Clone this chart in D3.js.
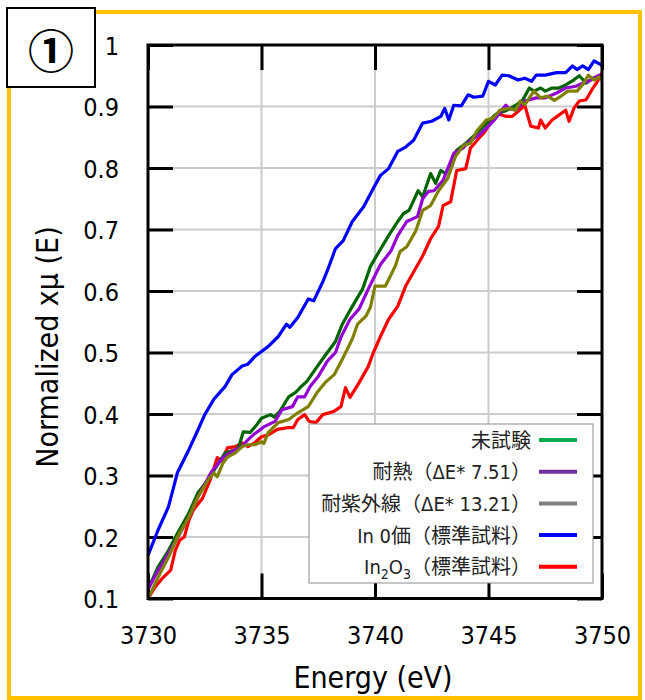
<!DOCTYPE html>
<html>
<head>
<meta charset="utf-8">
<script src="https://cdn.jsdelivr.net/npm/d3@7"></script>
<style>
	body { margin: 0; background: #fff; }
	svg text { font-family: "DejaVu Sans Condensed", "DejaVu Sans", "Noto Sans CJK JP", sans-serif; font-stretch: condensed; }
</style>
</head>
<body>
<svg id="chart" width="645" height="700"></svg>
<script>
/*
XANES spectra (In K-edge) of three samples and two references.
Each series is a list of [energy eV, normalized xmu] pairs.
*/
var mishiken = [ //未試験
	[3730.0,0.115],[3730.44,0.151],[3730.9,0.178],[3731.3,0.206],[3731.8,0.239],[3732.2,0.272],
	[3732.65,0.293],[3733.0,0.314],[3733.4,0.337],[3733.85,0.342],[3734.0,0.347],[3734.2,0.371],
	[3734.5,0.370],[3734.8,0.383],[3735.0,0.393],[3735.4,0.399],[3735.55,0.395],[3735.8,0.404],
	[3736.2,0.428],[3736.5,0.435],[3736.7,0.443],[3737.0,0.453],[3737.45,0.477],[3737.9,0.500],
	[3738.26,0.518],[3738.56,0.546],[3739.0,0.575],[3739.45,0.603],[3739.8,0.640],[3740.24,0.668],
	[3740.6,0.690],[3741.0,0.713],[3741.26,0.726],[3741.5,0.731],[3741.9,0.763],[3742.1,0.753],
	[3742.45,0.791],[3742.67,0.775],[3742.9,0.796],[3743.1,0.791],[3743.4,0.811],[3743.6,0.829],
	[3744.0,0.840],[3744.35,0.852],[3744.8,0.868],[3745.3,0.887],[3745.76,0.893],[3746.2,0.902],
	[3746.5,0.910],[3746.8,0.930],[3747.0,0.925],[3747.3,0.930],[3747.5,0.925],[3747.8,0.930],
	[3748.1,0.930],[3748.4,0.935],[3748.75,0.943],[3749.0,0.950],[3749.3,0.938],[3749.6,0.946],
	[3749.9,0.950],[3750.0,0.946]
];

var tainetsu = [ //耐熱
	[3730.0,0.115],[3730.44,0.145],[3730.9,0.173],[3731.3,0.199],[3731.8,0.232],[3732.2,0.265],
	[3732.8,0.306],[3733.3,0.329],[3733.7,0.339],[3734.15,0.347],[3734.4,0.358],[3734.7,0.368],
	[3735.1,0.379],[3735.6,0.388],[3735.9,0.407],[3736.36,0.412],[3736.6,0.428],[3736.9,0.428],
	[3737.15,0.445],[3737.5,0.461],[3737.9,0.486],[3738.26,0.500],[3738.5,0.525],[3738.9,0.554],
	[3739.3,0.571],[3739.7,0.603],[3740.24,0.643],[3740.7,0.665],[3741.0,0.690],[3741.4,0.713],
	[3741.87,0.721],[3742.1,0.750],[3742.36,0.762],[3742.6,0.763],[3743.0,0.780],[3743.47,0.824],
	[3743.86,0.832],[3744.2,0.845],[3744.57,0.853],[3745.0,0.868],[3745.3,0.880],[3745.76,0.902],
	[3745.9,0.897],[3746.2,0.894],[3746.6,0.909],[3747.1,0.914],[3747.5,0.914],[3748.0,0.922],
	[3748.4,0.930],[3748.85,0.933],[3749.15,0.938],[3749.4,0.941],[3749.87,0.951],[3750.0,0.945]
];

var taishigai = [ //耐紫外線
	[3730.0,0.100],[3730.44,0.134],[3730.9,0.167],[3731.3,0.200],[3731.8,0.232],[3732.2,0.265],
	[3732.65,0.293],[3732.9,0.304],[3733.05,0.298],[3733.3,0.320],[3733.5,0.330],[3733.85,0.337],
	[3734.15,0.347],[3734.4,0.350],[3734.7,0.350],[3735.0,0.355],[3735.1,0.352],[3735.3,0.370],
	[3735.74,0.386],[3736.2,0.391],[3736.6,0.402],[3737.06,0.412],[3737.45,0.435],[3737.8,0.451],
	[3738.2,0.464],[3738.56,0.489],[3739.0,0.522],[3739.23,0.546],[3739.6,0.559],[3739.8,0.574],
	[3740.0,0.608],[3740.46,0.608],[3740.9,0.641],[3741.1,0.664],[3741.4,0.672],[3741.8,0.698],
	[3742.1,0.731],[3742.45,0.739],[3742.8,0.763],[3743.2,0.783],[3743.55,0.819],[3743.9,0.837],
	[3744.2,0.840],[3744.5,0.861],[3744.9,0.878],[3745.2,0.881],[3745.5,0.894],[3745.9,0.897],
	[3746.2,0.894],[3746.4,0.909],[3746.6,0.903],[3747.0,0.925],[3747.3,0.914],[3747.6,0.917],
	[3747.9,0.910],[3748.2,0.917],[3748.5,0.925],[3748.9,0.925],[3749.2,0.938],[3749.4,0.951],
	[3749.65,0.943],[3749.87,0.948],[3750.0,0.943]
];

var in0 = [ //In 0価
	[3730.0,0.170],[3730.44,0.211],[3730.9,0.249],[3731.3,0.305],[3731.8,0.342],
	[3732.2,0.374],[3732.5,0.399],[3732.9,0.424],[3733.4,0.445],[3733.7,0.464],[3734.15,0.478],
	[3734.4,0.481],[3734.72,0.494],[3735.3,0.510],[3735.74,0.526],[3736.1,0.546],[3736.25,0.541],
	[3736.6,0.557],[3737.06,0.587],[3737.3,0.584],[3737.7,0.615],[3737.9,0.633],[3738.26,0.669],
	[3738.6,0.682],[3739.0,0.713],[3739.5,0.737],[3739.9,0.765],[3740.24,0.788],[3740.6,0.799],
	[3741.0,0.827],[3741.35,0.834],[3741.7,0.845],[3742.1,0.873],[3742.5,0.876],[3742.9,0.884],
	[3743.07,0.897],[3743.25,0.878],[3743.47,0.902],[3743.8,0.901],[3744.1,0.919],[3744.35,0.915],
	[3744.75,0.917],[3745.0,0.941],[3745.3,0.935],[3745.6,0.951],[3745.9,0.950],[3746.3,0.943],
	[3746.6,0.946],[3746.9,0.941],[3747.1,0.951],[3747.5,0.951],[3748.0,0.955],[3748.4,0.955],
	[3748.7,0.966],[3748.9,0.960],[3749.15,0.966],[3749.4,0.960],[3749.65,0.974],[3749.95,0.968],
	[3750.0,0.966]
];

var in2o3 = [ //In2O3
	[3730.0,0.100],[3730.3,0.118],[3730.66,0.134],[3731.0,0.146],[3731.2,0.178],[3731.4,0.195],
	[3731.6,0.200],[3731.8,0.227],[3732.0,0.244],[3732.4,0.263],[3732.74,0.293],[3733.05,0.329],
	[3733.25,0.324],[3733.5,0.345],[3733.85,0.347],[3734.15,0.353],[3734.4,0.347],[3734.7,0.353],
	[3735.0,0.363],[3735.3,0.366],[3735.7,0.375],[3736.2,0.378],[3736.4,0.378],[3736.6,0.391],
	[3736.9,0.399],[3737.1,0.388],[3737.4,0.386],[3737.7,0.399],[3738.17,0.404],[3738.5,0.412],
	[3738.7,0.443],[3738.9,0.427],[3739.3,0.451],[3739.7,0.477],[3739.93,0.500],[3740.24,0.526],
	[3740.6,0.554],[3741.0,0.575],[3741.35,0.608],[3741.7,0.631],[3742.1,0.657],[3742.45,0.685],
	[3742.8,0.705],[3743.0,0.739],[3743.33,0.745],[3743.6,0.796],[3744.0,0.799],[3744.2,0.832],
	[3744.57,0.848],[3744.8,0.857],[3745.0,0.868],[3745.2,0.881],[3745.45,0.888],[3745.75,0.884],
	[3746.05,0.884],[3746.3,0.892],[3746.6,0.902],[3746.86,0.868],[3747.2,0.865],[3747.3,0.878],
	[3747.5,0.865],[3747.8,0.878],[3748.1,0.886],[3748.4,0.894],[3748.55,0.876],[3748.76,0.897],
	[3749.0,0.909],[3749.3,0.911],[3749.6,0.930],[3749.8,0.941],[3750.0,0.955]
];

//tick values
var xTicks = [3730, 3735, 3740, 3745, 3750];
var yTicks = [0.1, 0.2, 0.3, 0.4, 0.5, 0.6, 0.7, 0.8, 0.9, 1];

//curve colours differ from the pasted legend swatches (as in the picture)
var curveSeries = [in2o3, in0, mishiken, tainetsu, taishigai];
var curveColors = ["#ff0000", "#0000ff", "#006400", "#9400d3", "#808000"];

var legendLabels = ["未試験", "耐熱（ΔE* 7.51）", "耐紫外線（ΔE* 13.21）", "In 0価（標準試料）", "In2O3（標準試料）"];
var legendColors = ["#00b050", "#7030a0", "#808080", "#0000ff", "#ff0000"];

var svg = d3.select("#chart");

//gold frame of the slide panel
svg.append("rect")
.attr("x", 9)
.attr("y", 12)
.attr("width", 631)
.attr("height", 686)
.attr("fill", "none")
.attr("stroke", "#ffc000")
.attr("stroke-width", 4);

//plot box edges (window.top is reserved, so no bare "top")
var plotL = 148, plotR = 602, plotT = 45, plotB = 598.5;

var x = d3.scaleLinear().domain([3730, 3750]).range([plotL, plotR]);
var y = d3.scaleLinear().domain([0.1, 1]).range([plotB, plotT]);

//grid
svg.append("g")
.selectAll("line")
.data(xTicks.slice(1, -1))
.enter()
.append("line")
.attr("x1", function(d){return x(d);})
.attr("x2", function(d){return x(d);})
.attr("y1", plotT)
.attr("y2", plotB)
.attr("stroke", "#cccccc")
.attr("stroke-width", 2);

svg.append("g")
.selectAll("line")
.data(yTicks.slice(1, -1))
.enter()
.append("line")
.attr("x1", plotL)
.attr("x2", plotR)
.attr("y1", function(d){return y(d);})
.attr("y2", function(d){return y(d);})
.attr("stroke", "#cccccc")
.attr("stroke-width", 2);

//inward ticks on all four sides, gnuplot style
function tickAxis(axis, tx, ty){
	var g = svg.append("g")
	.attr("transform", "translate(" + tx + "," + ty + ")")
	.call(axis.tickSize(-25).tickFormat(""));
	g.select(".domain").remove();
	g.selectAll("line").attr("stroke", "#000").attr("stroke-width", 3);
	return g;
}
tickAxis(d3.axisBottom(x).tickValues(xTicks), 0, plotB);
tickAxis(d3.axisTop(x).tickValues(xTicks), 0, plotT);
tickAxis(d3.axisLeft(y).tickValues(yTicks), plotL, 0);
tickAxis(d3.axisRight(y).tickValues(yTicks), plotR, 0);

//tick labels through the same scales
var xLab = svg.append("g")
.attr("transform", "translate(0," + plotB + ")")
.call(d3.axisBottom(x).tickValues(xTicks).tickSize(0).tickPadding(45).tickFormat(d3.format("d")));
xLab.select(".domain").remove();
xLab.selectAll("text")
.attr("dy", 0)
.style("font-size", "25px")
.attr("fill", "#000");

var yLab = svg.append("g")
.attr("transform", "translate(119,0)")
.call(d3.axisLeft(y).tickValues(yTicks).tickSize(0).tickPadding(0).tickFormat(function(d){return String(+d.toFixed(1));}));
yLab.select(".domain").remove();
yLab.selectAll("text")
.attr("dy", "0.36em")
.style("font-size", "25px")
.attr("fill", "#000");

//curves
svg.append("clipPath")
.attr("id", "plotclip")
.append("rect")
.attr("x", plotL)
.attr("y", plotT)
.attr("width", plotR - plotL)
.attr("height", plotB - plotT);

var line = d3.line()
.x(function(d){return x(d[0]);})
.y(function(d){return y(d[1]);});

svg.append("g")
.attr("clip-path", "url(#plotclip)")
.selectAll("path")
.data(curveSeries)
.enter()
.append("path")
.attr("d", line)
.attr("fill", "none")
.attr("stroke", function(d, i){return curveColors[i];})
.attr("stroke-width", 3.2)
.attr("stroke-linejoin", "round");

//frame
svg.append("rect")
.attr("x", plotL)
.attr("y", plotT)
.attr("width", plotR - plotL)
.attr("height", plotB - plotT)
.attr("fill", "none")
.attr("stroke", "#000")
.attr("stroke-width", 3);

//axis titles
svg.append("text")
.attr("x", 373)
.attr("y", 688)
.attr("text-anchor", "middle")
.style("font-size", "30px")
.text("Energy (eV)");

svg.append("text")
.attr("transform", "translate(58,347) rotate(-90)")
.attr("text-anchor", "middle")
.style("font-size", "30px")
.text("Normalized xμ (E)");

//legend box pasted over the plot
var legendGroup = svg.append("g");
legendGroup.append("rect")
.attr("x", 309)
.attr("y", 424)
.attr("width", 284)
.attr("height", 159)
.attr("fill", "#fff")
.attr("stroke", "#8c8c8c")
.attr("stroke-width", 1);

var rows = legendGroup.selectAll("g.row")
.data(legendLabels)
.enter()
.append("g")
.attr("class", "row")
.attr("transform", function(d, i){return "translate(0," + (440 + i * 31.7) + ")";});

rows.append("line")
.attr("x1", 539)
.attr("x2", 577)
.attr("stroke", function(d, i){return legendColors[i];})
.attr("stroke-width", 4);

rows.append("text")
.attr("x", 531)
.attr("y", 7.5)
.attr("text-anchor", "end")
.style("font-size", "20px")
.attr("fill", "#222")
.each(function(d){
	var t = d3.select(this);
	//In2O3 needs real subscripts
	var m = d.match(/^In2O3(.*)$/);
	if(m){
		t.append("tspan").text("In");
		t.append("tspan").attr("dy", 5).style("font-size", "14px").text("2");
		t.append("tspan").attr("dy", -5).text("O");
		t.append("tspan").attr("dy", 5).style("font-size", "14px").text("3");
		t.append("tspan").attr("dy", -5).text(m[1]);
	} else {
		t.text(d);
	}
});

//panel number box
svg.append("rect")
.attr("x", 7)
.attr("y", 8)
.attr("width", 88)
.attr("height", 79)
.attr("fill", "#fff")
.attr("stroke", "#000")
.attr("stroke-width", 2);

svg.append("text")
.attr("x", 51)
.attr("y", 48)
.attr("text-anchor", "middle")
.attr("dominant-baseline", "central")
.style("font-family", "'Noto Sans CJK JP'")
.style("font-size", "46px")
.style("font-weight", "bold")
.text("①");
</script>
</body>
</html>
